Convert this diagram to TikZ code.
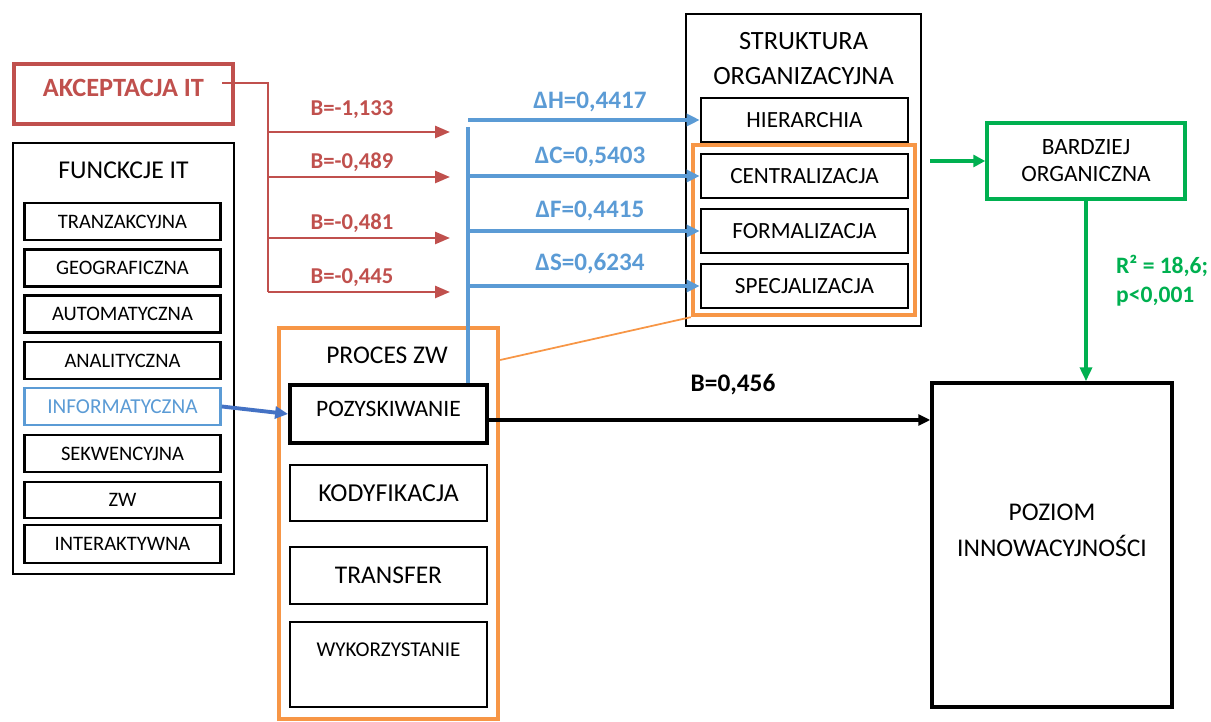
\documentclass[tikz,border=0pt]{standalone}
\usepackage{fontspec}
\setmainfont{Carlito}
\usepackage{tikz}
\usetikzlibrary{arrows.meta, positioning, calc}

\definecolor{akcred}{HTML}{C0504D}
\definecolor{lineblue}{HTML}{5B9BD5}
\definecolor{infoblue}{HTML}{4472C4}
\definecolor{procorange}{HTML}{F79646}
\definecolor{orggreen}{HTML}{00B050}
\newcommand{\fsz}[1]{\fontsize{#1}{#1}\selectfont}

\begin{document}
\begin{tikzpicture}[x=0.02cm, y=-0.02cm,
  frame/.style={draw, line width=1.4pt, inner sep=0pt},
  item/.style={draw, line width=1.5pt, inner sep=0pt, font=\fsz{11.7}},
  title/.style={font=\fsz{14.6}, align=center},
  redlbl/.style={text=akcred, font=\bfseries\fsz{12.9}},
  bluelbl/.style={text=lineblue, font=\bfseries\fsz{14.3}},
  redarrow/.style={draw=akcred, line width=1.5pt, -{Triangle[length=0.3cm, width=0.24cm]}},
  bluearrow/.style={draw=lineblue, line width=2.2pt, -{Triangle[length=0.26cm, width=0.24cm]}}]
\useasboundingbox (0,0) rectangle (1211,722);

% Akceptacja IT
\node[draw=akcred, line width=2.4pt, minimum width=4.38cm, minimum height=1.2cm, text=akcred, font=\bfseries\fsz{15}, text depth=0.24cm] (akc) at (123.5,94) {AKCEPTACJA IT};

% Funkcje IT
\node[frame, minimum width=4.42cm, minimum height=8.62cm] (fun) at (123.5,358.5) {};
\node[title] (funtitle) at (123.5,170) {FUNCKCJE IT};
\node[item, minimum width=3.92cm, minimum height=0.74cm] (tran) at (122.5,221.5) {TRANZAKCYJNA};
\node[item, minimum width=3.92cm, minimum height=0.74cm] (geo) at (122.5,268) {GEOGRAFICZNA};
\node[item, minimum width=3.92cm, minimum height=0.74cm] (auto) at (122.5,314) {AUTOMATYCZNA};
\node[item, minimum width=3.92cm, minimum height=0.74cm] (anal) at (122.5,360.5) {ANALITYCZNA};
\node[item, draw=lineblue, text=lineblue, font=\fsz{12.1}, minimum width=3.92cm, minimum height=0.74cm] (info) at (122.5,406.5) {INFORMATYCZNA};
\node[item, minimum width=3.92cm, minimum height=0.74cm] (sekw) at (122.5,453.5) {SEKWENCYJNA};
\node[item, minimum width=3.92cm, minimum height=0.72cm] (zw) at (122.5,500) {ZW};
\node[item, minimum width=3.92cm, minimum height=0.76cm] (inter) at (122.5,544) {INTERAKTYWNA};

% Proces ZW
\node[draw=procorange, line width=2.5pt, inner sep=0pt, minimum width=4.38cm, minimum height=7.82cm] (proc) at (388.5,523.5) {};
\node[title, font=\fsz{14.5}] (proctitle) at (387,355) {PROCES ZW};
\node[item, line width=2.2pt, font=\fsz{13.4}, minimum width=3.94cm, minimum height=1.16cm, text depth=0.2cm] (pozy) at (388.5,414) {POZYSKIWANIE};
\node[item, font=\fsz{14.7}, minimum width=3.94cm, minimum height=1.12cm] (kody) at (388.5,493) {KODYFIKACJA};
\node[item, font=\fsz{14.5}, minimum width=3.94cm, minimum height=1.14cm] (trans) at (388.5,575.5) {TRANSFER};
\node[item, font=\fsz{12}, minimum width=3.94cm, minimum height=1.7cm, text depth=0.58cm] (wyko) at (388.5,664.5) {WYKORZYSTANIE};

% Struktura organizacyjna
\node[frame, minimum width=4.7cm, minimum height=6.24cm] (struk) at (803.5,170) {};
\node[title, font=\fsz{15}] (struktitle) at (803.5,58.5) {STRUKTURA\\[5pt]ORGANIZACYJNA};
\node[item, font=\fsz{13.2}, minimum width=4.14cm, minimum height=0.88cm] (hier) at (804.5,120) {HIERARCHIA};
\node[item, font=\fsz{13.2}, minimum width=4.14cm, minimum height=0.88cm] (cent) at (804.5,176) {CENTRALIZACJA};
\node[item, font=\fsz{13.2}, minimum width=4.14cm, minimum height=0.88cm] (form) at (804.5,231) {FORMALIZACJA};
\node[item, font=\fsz{13.2}, minimum width=4.14cm, minimum height=0.88cm] (spec) at (804.5,286) {SPECJALIZACJA};
\node[draw=procorange, line width=2.5pt, inner sep=0pt, minimum width=4.44cm, minimum height=3.4cm] (orgbox) at (804,230) {};

% Wynik
\node[draw=orggreen, line width=2pt, align=center, font=\fsz{13.3}, minimum width=3.96cm, minimum height=1.52cm] (bard) at (1086,161) {BARDZIEJ\\[2pt]ORGANICZNA};
\node[draw, line width=2pt, align=center, font=\fsz{14.5}, minimum width=4.8cm, minimum height=6.48cm, text depth=0.6cm] (pozi) at (1052,545) {POZIOM\\[6pt]INNOWACYJNOŚCI};

% Akceptacja -> struktura
\coordinate (akcout) at (222,83);
\coordinate (rsplit) at (268,83);
\coordinate (r1) at (450,132);
\coordinate (r2) at (450,177);
\coordinate (r3) at (450,238);
\coordinate (r4) at (450,292);
\draw[akcred, line width=1.5pt] (akcout) -- (rsplit) -- (rsplit |- r4);
\draw[redarrow] (rsplit |- r1) -- (r1);
\draw[redarrow] (rsplit |- r2) -- (r2);
\draw[redarrow] (rsplit |- r3) -- (r3);
\draw[redarrow] (rsplit |- r4) -- (r4);
\node[redlbl] (b1) at (352,110) {B=-1,133};
\node[redlbl] (b2) at (352,162) {B=-0,489};
\node[redlbl] (b3) at (352,223) {B=-0,481};
\node[redlbl] (b4) at (352,278) {B=-0,445};

% Pozyskiwanie -> struktura
\coordinate (btop) at (468,127);
\draw[lineblue, line width=2.2pt] (pozy.north -| btop) -- (btop);
\draw[bluearrow] (btop |- hier.west) -- (hier.west);
\draw[bluearrow] (btop |- cent.west) -- (cent.west);
\draw[bluearrow] (btop |- form.west) -- (form.west);
\draw[bluearrow] (btop |- spec.west) -- (spec.west);
\node[bluelbl] (dh) at (590,102) {ΔH=0,4417};
\node[bluelbl] (dc) at (590,157) {ΔC=0,5403};
\node[bluelbl] (df) at (590,211) {ΔF=0,4415};
\node[bluelbl] (ds) at (590,264) {ΔS=0,6234};

\draw[infoblue, line width=2.2pt, -{Triangle[length=0.26cm, width=0.24cm]}] (info.east) -- (pozy.west);
\draw[procorange, line width=1pt] (proc.east |- 0,360) -- (orgbox.south west);

% Do innowacyjnosci
\draw[orggreen, line width=2pt, shorten <=0.16cm, -{Triangle[length=0.24cm, width=0.24cm]}] (struk.east |- bard.west) -- (bard.west);
\draw[orggreen, line width=2pt, -{Triangle[length=0.28cm, width=0.24cm]}] (bard.south) -- (bard.south |- pozi.north);
\node[text=orggreen, font=\bfseries\fsz{13.4}, align=left, anchor=west] (r2lbl) at (1110,281) {R² = 18,6;\\[3pt]p<0,001};
\draw[line width=2pt, -{Triangle[length=0.24cm, width=0.22cm]}] ([yshift=-0.12cm]pozy.east) -- ([yshift=-0.12cm]pozy.east -| pozi.west);
\node[font=\bfseries\fsz{14.4}] (b0) at (733,385) {B=0,456};
\end{tikzpicture}
\end{document}
